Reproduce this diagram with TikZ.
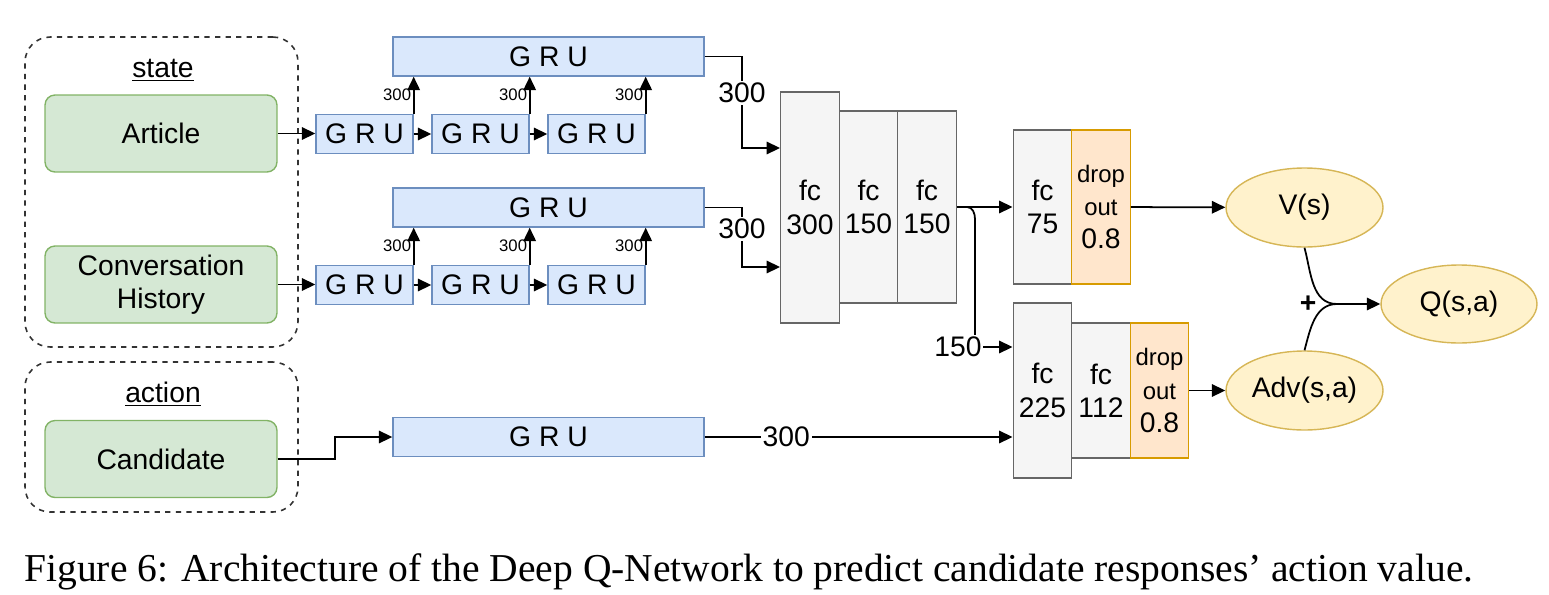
\documentclass[tikz,border=0pt]{standalone}
\usepackage{fontspec}
\setmainfont{Liberation Sans}
\newfontfamily\capfont{Liberation Serif}
\usetikzlibrary{arrows.meta,shapes.geometric}
\definecolor{inpfill}{HTML}{D5E8D4}
\definecolor{inpline}{HTML}{82B366}
\definecolor{grufill}{HTML}{DAE8FC}
\definecolor{gruline}{HTML}{6C8EBF}
\definecolor{fcfill}{HTML}{F5F5F5}
\definecolor{fcline}{HTML}{666666}
\definecolor{dropfill}{HTML}{FFE6CC}
\definecolor{dropline}{HTML}{D79B00}
\definecolor{valfill}{HTML}{FFF2CC}
\definecolor{valline}{HTML}{D6B656}
\newcommand\dropsz{\fontsize{13.6}{19}\selectfont}

\begin{document}
\begin{tikzpicture}[x=0.02cm, y=-0.02cm,
	every node/.style={font=\fontsize{16.1}{19}\selectfont},
	grp/.style={draw=black!80, dashed, rounded corners=0.5cm, line width=0.9pt, minimum width=5.46cm},
	inp/.style={draw=inpline, fill=inpfill, rounded corners=0.2cm, line width=0.8pt,
		minimum width=4.64cm, minimum height=1.54cm, align=center},
	gru/.style={draw=gruline, fill=grufill, line width=0.8pt, minimum height=0.78cm, inner sep=0pt},
	fc/.style={draw=fcline, fill=fcfill, line width=0.8pt, minimum width=1.17cm, inner sep=0pt, align=center},
	drop/.style={fc, draw=dropline, fill=dropfill},
	val/.style={ellipse, draw=valline, fill=valfill, line width=0.8pt, inner sep=0pt,
		minimum width=3.14cm, minimum height=1.58cm},
	arr/.style={-{Triangle[length=0.27cm,width=0.25cm]}, line width=1pt},
	lbl/.style={fill=white, inner sep=1pt},
	sml/.style={font=\fontsize{9.5}{11}\selectfont, inner sep=1pt}]
	\useasboundingbox (0,0) rectangle (1549,595);

	% state / action groups
	\node[grp, minimum height=6.2cm] (state) at (161.5,192) {};
	\node[grp, minimum height=3cm] (action) at (161.5,437) {};
	\node (statelbl) at (163,70) {\underline{state}};
	\node (actionlbl) at (163,394) {\underline{action}};
	\node[inp] (art) at (161,133.5) {Article};
	\node[inp] (conv) at (161,284.5) {Conversation\\History};
	\node[inp] (cand) at (161,459) {Candidate};

	% two stacked GRU encoders
	\foreach \r/\y in {1/134, 2/285} {
		\node[gru, minimum width=6.22cm] (big\r) at (548.5,\y-77.5) {G R U};
		\foreach \c/\x in {1/364.5, 2/480.5, 3/596.5}
			\node[gru, minimum width=1.94cm] (g\r\c) at (\x,\y) {G R U};
		\draw[arr] (g\r1) -- (g\r2);
		\draw[arr] (g\r2) -- (g\r3);
		\foreach \c in {1,2,3}
			\draw[arr] (g\r\c.north east) -- node[sml,left]{300} (g\r\c.north east |- big\r.south);
	}
	\draw[arr] (art.east) -- (art.east -| g11.west);
	\draw[arr] (conv.east) -- (conv.east -| g21.west);
	\node[gru, minimum width=6.22cm] (gru3) at (548.5,437) {G R U};
	\draw[arr] (cand.east) -- (335,459) |- (gru3.west);

	% fully connected layers
	\node[fc, minimum height=4.62cm] (fc1) at (810,207.5) {fc\\300};
	\node[fc, minimum height=3.84cm] (fc2) at (868.5,207) {fc\\150};
	\node[fc, minimum height=3.84cm] (fc3) at (927,207) {fc\\150};
	\node[fc, minimum height=3.08cm] (fc4) at (1042.5,207) {fc\\75};
	\node[drop, minimum height=3.08cm] (drop1) at (1101,207) {{\dropsz drop}\\{\dropsz out}\\0.8};
	\node[fc, minimum height=3.5cm] (fc5) at (1042.5,390.5) {fc\\225};
	\node[fc, minimum height=2.7cm] (fc6) at (1101,390.5) {fc\\112};
	\node[drop, minimum height=2.7cm] (drop2) at (1159.5,390.5) {{\dropsz drop}\\{\dropsz out}\\0.8};

	\draw[arr] (big1.east) -- (742,56.5) -- node[lbl,pos=0.4]{300} (742,148) -- (fc1.west |- 742,148);
	\draw[arr] (big2.east) -- (742,207.5) -- node[lbl,pos=0.36]{300} (742,267) -- (fc1.west |- 742,267);
	\draw[arr] (gru3.east) -- node[lbl,pos=0.265]{300} (fc5.west |- gru3.east);
	\draw[arr] (fc3) -- (fc4);
	\coordinate (br) at (967,207);
	\draw[arr] (br) to[out=0,in=90] (975,219) -- (975,347) -- (fc5.west |- 975,347);
	\node[lbl] (l150) at (958,347) {150};

	% dueling heads
	\node[val] (vs) at (1304.5,207.5) {V(s)};
	\node[val] (adv) at (1304.5,390.5) {Adv(s,a)};
	\node[val, minimum width=3.12cm, minimum height=1.56cm] (q) at (1459,304) {Q(s,a)};
	\draw[arr] (drop1) -- (vs);
	\draw[arr] (drop2) -- (adv);
	\coordinate (sum) at (1337,304);
	\draw[line width=1pt] (vs.south) to[out=-75,in=180] (sum);
	\draw[line width=1pt] (adv.north) to[out=75,in=180] (sum);
	\draw[arr] (sum) -- (q);
	\node[font=\fontsize{16.1}{19}\selectfont\bfseries] (plus) at (1308,304) {+};

	\node[font=\capfont\fontsize{22.5}{26}\selectfont, anchor=west, inner sep=0pt] (cap) at (24,572)
		{Figure 6: Architecture of the Deep Q-Network to predict candidate responses’ action value.};
\end{tikzpicture}
\end{document}
